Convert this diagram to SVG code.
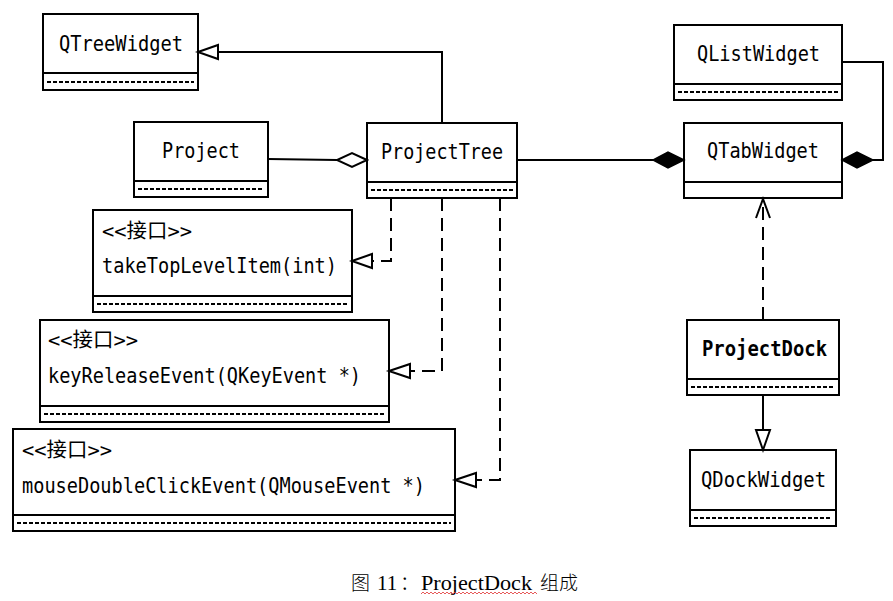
<svg xmlns="http://www.w3.org/2000/svg" width="893" height="601" viewBox="0 0 893 601">
<defs>
<style>
.box{fill:#fff;stroke:#000;stroke-width:2}
.sep{stroke:#000;stroke-width:2;stroke-dasharray:4 2;fill:none}
.lbl{font-family:"DejaVu Sans Mono","Liberation Mono",monospace;font-size:21px;fill:#000}
.cn{font-family:"DejaVu Sans Mono","Noto Sans CJK SC",monospace;font-size:20px;fill:#000}
.ln{stroke:#000;stroke-width:2;fill:none}
.dl{stroke:#000;stroke-width:2;fill:none;stroke-dasharray:13 7}
.hollow{fill:#fff;stroke:#000;stroke-width:2}
.solid{fill:#000;stroke:#000;stroke-width:1.5}
.cap{font-family:"Liberation Serif","Noto Sans CJK SC",serif;font-size:21px;fill:#000}
.capcn{font-family:"Noto Sans CJK SC",sans-serif;font-size:19px;font-weight:300}
</style>
</defs>
<rect width="893" height="601" fill="#fff"/>

<g id="QTreeWidget">
<rect class="box" x="43" y="14" width="155" height="76"/>
<line class="ln" x1="43" y1="73" x2="198" y2="73"/>
<line class="sep" x1="47" y1="82" x2="194" y2="82"/>
<text class="lbl" x="59" y="51" textLength="124" lengthAdjust="spacingAndGlyphs">QTreeWidget</text>
</g>

<g id="Project">
<rect class="box" x="134" y="122" width="134" height="75"/>
<line class="ln" x1="134" y1="181" x2="268" y2="181"/>
<line class="sep" x1="138" y1="189" x2="264" y2="189"/>
<text class="lbl" x="162" y="158" textLength="78" lengthAdjust="spacingAndGlyphs">Project</text>
</g>

<g id="ProjectTree">
<rect class="box" x="367" y="123" width="150" height="75"/>
<line class="ln" x1="367" y1="182" x2="517" y2="182"/>
<line class="sep" x1="371" y1="190" x2="513" y2="190"/>
<text class="lbl" x="381" y="159" textLength="122" lengthAdjust="spacingAndGlyphs">ProjectTree</text>
</g>

<g id="QListWidget">
<rect class="box" x="674" y="25" width="168" height="75"/>
<line class="ln" x1="674" y1="84" x2="842" y2="84"/>
<line class="sep" x1="678" y1="92" x2="838" y2="92"/>
<text class="lbl" x="697" y="61" textLength="123" lengthAdjust="spacingAndGlyphs">QListWidget</text>
</g>

<g id="QTabWidget">
<rect class="box" x="684" y="123" width="158" height="75"/>
<line class="ln" x1="684" y1="182" x2="842" y2="182"/>
<text class="lbl" x="707" y="158" textLength="112" lengthAdjust="spacingAndGlyphs">QTabWidget</text>
</g>

<g id="ProjectDock">
<rect class="box" x="687" y="320" width="152" height="75"/>
<line class="ln" x1="687" y1="379" x2="839" y2="379"/>
<line class="sep" x1="691" y1="387" x2="835" y2="387"/>
<text class="lbl" x="702" y="356" font-weight="bold" textLength="125" lengthAdjust="spacingAndGlyphs">ProjectDock</text>
</g>

<g id="QDockWidget">
<rect class="box" x="690" y="450" width="146" height="76"/>
<line class="ln" x1="690" y1="510" x2="836" y2="510"/>
<line class="sep" x1="694" y1="518" x2="832" y2="518"/>
<text class="lbl" x="701" y="487" textLength="125" lengthAdjust="spacingAndGlyphs">QDockWidget</text>
</g>

<g id="takeTopLevelItem">
<rect class="box" x="93" y="210" width="259" height="102"/>
<line class="ln" x1="93" y1="296" x2="352" y2="296"/>
<line class="sep" x1="97" y1="304" x2="348" y2="304"/>
<text class="cn" x="102" y="238" textLength="90" lengthAdjust="spacingAndGlyphs">&lt;&lt;接口&gt;&gt;</text>
<text class="lbl" x="102" y="273" textLength="235" lengthAdjust="spacingAndGlyphs">takeTopLevelItem(int)</text>
</g>

<g id="keyReleaseEvent">
<rect class="box" x="40" y="320" width="349" height="102"/>
<line class="ln" x1="40" y1="406" x2="389" y2="406"/>
<line class="sep" x1="44" y1="414" x2="385" y2="414"/>
<text class="cn" x="48" y="347" textLength="90" lengthAdjust="spacingAndGlyphs">&lt;&lt;接口&gt;&gt;</text>
<text class="lbl" x="48" y="383" textLength="313" lengthAdjust="spacingAndGlyphs">keyReleaseEvent(QKeyEvent *)</text>
</g>

<g id="mouseDoubleClickEvent">
<rect class="box" x="13" y="429" width="442" height="102"/>
<line class="ln" x1="13" y1="515" x2="455" y2="515"/>
<line class="sep" x1="17" y1="523" x2="451" y2="523"/>
<text class="cn" x="22" y="457" textLength="90" lengthAdjust="spacingAndGlyphs">&lt;&lt;接口&gt;&gt;</text>
<text class="lbl" x="22" y="493" textLength="403" lengthAdjust="spacingAndGlyphs">mouseDoubleClickEvent(QMouseEvent *)</text>
</g>

<g id="connectors">
<polyline class="ln" points="442,123 442,52 218,52"/>
<polygon class="hollow" points="198,52 218,45 218,59"/>
<line class="ln" x1="268" y1="159" x2="337" y2="160"/>
<polygon class="hollow" points="367,160 352,153 337,160 352,167"/>
<line class="ln" x1="517" y1="160" x2="653" y2="160"/>
<polygon class="solid" points="684,160 668,152 653,160 668,168"/>
<polyline class="ln" points="842,62 883,62 883,160 873,160"/>
<polygon class="solid" points="842,160 857,152 873,160 857,168"/>
<polyline class="dl" points="391,198 391,261 372,261"/>
<polygon class="hollow" points="352,261 372,254 372,268"/>
<polyline class="dl" points="442,198 442,371 410,371"/>
<polygon class="hollow" points="389,371 410,364 410,378"/>
<polyline class="dl" points="500,198 500,480 476,480"/>
<polygon class="hollow" points="455,480 476,473 476,487"/>
<line class="dl" x1="763" y1="320" x2="763" y2="200"/>
<polyline class="ln" points="756,218 763,199 770,218"/>
<line class="ln" x1="763" y1="395" x2="763" y2="430"/>
<polygon class="hollow" points="763,450 756,430 770,430"/>
</g>

<g id="caption">
<text class="cap" y="590"><tspan class="capcn" x="351">图</tspan><tspan x="377">11</tspan><tspan class="capcn" x="400">：</tspan><tspan x="421" textLength="111" lengthAdjust="spacingAndGlyphs">ProjectDock</tspan><tspan class="capcn" x="540">组成</tspan></text>
<path d="M421,594 l2,-2 l2,2 l2,-2 l2,2 l2,-2 l2,2 l2,-2 l2,2 l2,-2 l2,2 l2,-2 l2,2 l2,-2 l2,2 l2,-2 l2,2 l2,-2 l2,2 l2,-2 l2,2 l2,-2 l2,2 l2,-2 l2,2 l2,-2 l2,2 l2,-2 l2,2 l2,-2 l2,2 l2,-2 l2,2 l2,-2 l2,2 l2,-2 l2,2 l2,-2 l2,2 l2,-2 l2,2 l2,-2 l2,2 l2,-2 l2,2 l2,-2 l2,2 l2,-2 l2,2 l2,-2 l2,2 l2,-2 l2,2 l2,-2 l2,2 l2,-2 l2,2 l2,-2 l2,2" fill="none" stroke="#e03030" stroke-width="0.8"/>
</g>
</svg>
